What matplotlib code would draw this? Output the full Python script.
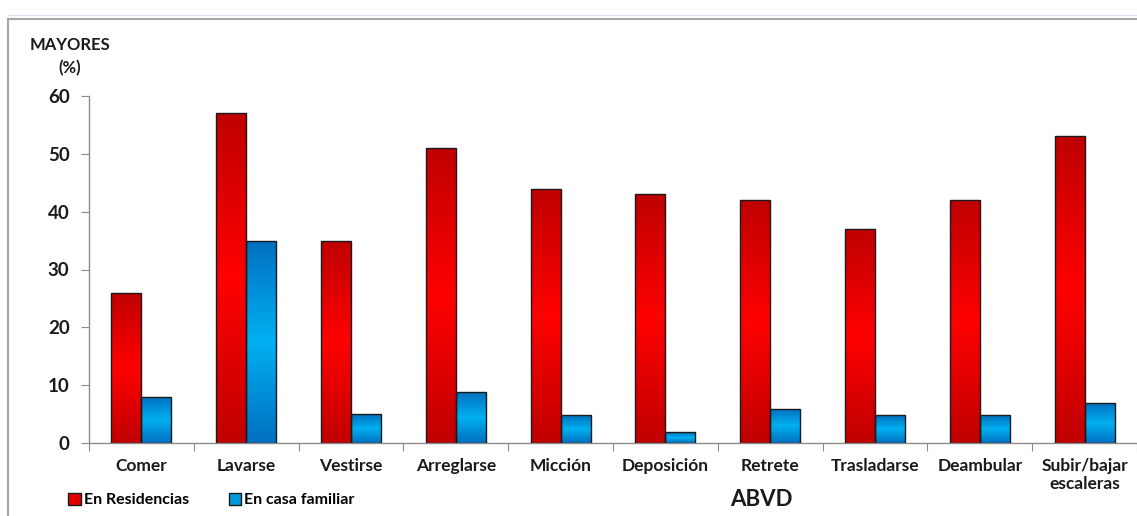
import matplotlib
matplotlib.use("Agg")
import matplotlib.pyplot as plt
from matplotlib.patches import Rectangle
from matplotlib.colors import LinearSegmentedColormap
from matplotlib.lines import Line2D
import numpy as np

plt.rcParams['font.family'] = ['Lato', 'DejaVu Sans']
plt.rcParams['font.weight'] = 'bold'

categories = ['Comer', 'Lavarse', 'Vestirse', 'Arreglarse', 'Micción',
              'Deposición', 'Retrete', 'Trasladarse', 'Deambular',
              'Subir/bajar\nescaleras']
residencias = [26, 57, 35, 51, 44, 43, 42, 37, 42, 53]
casa_familiar = [8, 35, 5, 8.8, 4.8, 1.9, 5.9, 4.8, 4.8, 6.9]
series_names = ['En Residencias', 'En casa familiar']
y_ticks = [0, 10, 20, 30, 40, 50, 60]

red_cmap = LinearSegmentedColormap.from_list('red', ['#C00000', '#FF0000', '#C00000'])
blue_cmap = LinearSegmentedColormap.from_list('blue', ['#0070C0', '#00B0F0', '#0070C0'])

fig = plt.figure(figsize=(11.37, 5.16), dpi=100)
ax = fig.add_axes([89 / 1137, 73 / 516, 1 - 89 / 1137, 347 / 516])

x = np.arange(len(categories))
w = 0.286


def gradient_bars(xs, vals, cmap):
    bars = ax.bar(xs, vals, width=w, facecolor='none', edgecolor='#1a1a1a',
                  linewidth=1.0, zorder=3)
    grad = np.linspace(0, 1, 100).reshape(-1, 1)
    for b in bars:
        x0, y0 = b.get_x(), b.get_y()
        im = ax.imshow(grad, cmap=cmap, aspect='auto', origin='lower',
                       extent=(x0, x0 + b.get_width(), y0, y0 + b.get_height()),
                       zorder=2, interpolation='bilinear')
        im.set_clip_path(b)
    return bars


gradient_bars(x - w / 2, residencias, red_cmap)
gradient_bars(x + w / 2, casa_familiar, blue_cmap)

ax.set_xlim(-0.5, len(categories) - 0.5)
ax.set_ylim(0, 60)

for s in ['top', 'right']:
    ax.spines[s].set_visible(False)
for s in ['left', 'bottom']:
    ax.spines[s].set_color('#8c8c8c')
    ax.spines[s].set_linewidth(1.0)

ax.set_yticks(y_ticks)
ax.set_yticklabels([str(v) for v in y_ticks], fontsize=13.5, fontweight='bold', color='#1a1a1a')
ax.tick_params(axis='y', direction='out', length=6, color='#8c8c8c', pad=8)

ax.set_xticks(np.arange(-0.5, len(categories), 1.0))
ax.set_xticklabels([])
ax.tick_params(axis='x', which='major', direction='out', length=6, color='#8c8c8c')
ax.set_xticks(x, minor=True)
ax.set_xticklabels(categories, minor=True, fontsize=12.5, fontweight='bold',
                   color='#1a1a1a', linespacing=1.1)
ax.tick_params(axis='x', which='minor', length=0, pad=11)

fig.text(70 / 1137, 1 - 45 / 516, 'MAYORES', ha='center', va='center',
         fontsize=12, fontweight='bold', color='#1a1a1a')
fig.text(70 / 1137, 1 - 68 / 516, '(%)', ha='center', va='center',
         fontsize=12, fontweight='bold', color='#1a1a1a')
fig.text(761 / 1137, 1 - 500 / 516, 'ABVD', ha='center', va='center',
         fontsize=16, fontweight='bold', color='#1a1a1a')

handles = [Rectangle((0, 0), 1, 1, facecolor='#E00000', edgecolor='#1a1a1a'),
           Rectangle((0, 0), 1, 1, facecolor='#0099DD', edgecolor='#1a1a1a')]
fig.legend(handles, series_names, loc='center left', ncol=2,
           bbox_to_anchor=(54 / 1137, 1 - 500 / 516), frameon=False,
           prop={'size': 11.5, 'weight': 'bold'}, handlelength=0.8,
           handleheight=0.8, handletextpad=0.15, columnspacing=2.5)

# chart frame and sheet lines
fig.add_artist(Line2D([8 / 1137, 1], [1 - 19 / 516] * 2, color='#a6a6a6', lw=1.5))
fig.add_artist(Line2D([8 / 1137] * 2, [0, 1 - 19 / 516], color='#a6a6a6', lw=1.5))
fig.add_artist(Line2D([8 / 1137, 1], [1 - 15 / 516] * 2, color='#dce6f2', lw=1.0))

fig.savefig('out.png', dpi=100)
